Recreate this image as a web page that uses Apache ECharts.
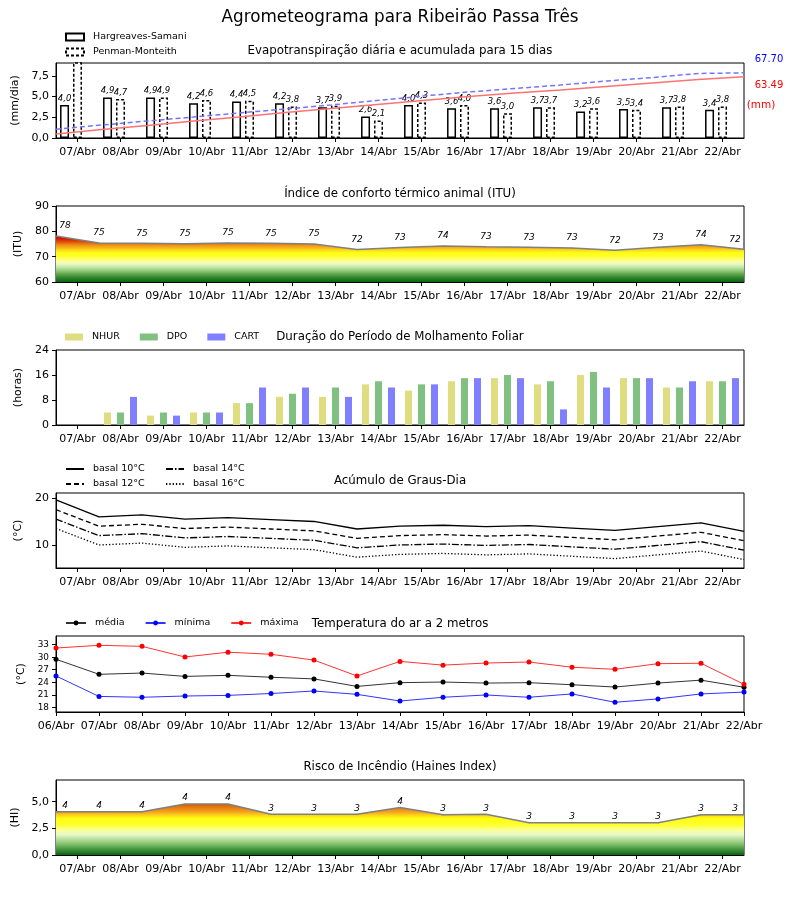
<!DOCTYPE html>
<html><head><meta charset="utf-8">
<script src="https://cdn.jsdelivr.net/npm/echarts@6/dist/echarts.min.js"></script>
<style>html,body{margin:0;padding:0;background:#fff}#c{width:800px;height:900px}</style>
</head><body><div id="c"></div>
<script>
// ---------- DATA ----------
const days16 = ['07/Abr','08/Abr','09/Abr','10/Abr','11/Abr','12/Abr','13/Abr','14/Abr','15/Abr','16/Abr','17/Abr','18/Abr','19/Abr','20/Abr','21/Abr','22/Abr'];
const days17 = ['06/Abr','07/Abr','08/Abr','09/Abr','10/Abr','11/Abr','12/Abr','13/Abr','14/Abr','15/Abr','16/Abr','17/Abr','18/Abr','19/Abr','20/Abr','21/Abr','22/Abr'];

const etHS = [4.0,4.9,4.9,4.2,4.4,4.2,3.7,2.6,4.0,3.6,3.6,3.7,3.2,3.5,3.7,3.4];
const etPM = [9.6,4.7,4.9,4.6,4.5,3.8,3.9,2.1,4.3,4.0,3.0,3.7,3.6,3.4,3.8,3.8];
const cumHS = [4.2,8.8,13.0,17.7,21.8,26.5,30.6,34.8,39.0,43.1,46.7,49.9,53.5,57.1,60.8,63.49];
const cumPM = [9.0,13.5,17.7,21.8,26.0,30.1,34.3,38.9,43.6,47.8,51.4,55.0,59.2,62.8,67.0,67.70];
const cumLabels = ['67.70','63.49','(mm)'];

const itu = [78.2,75.4,75.3,75.1,75.4,75.3,75.0,72.8,73.6,74.2,73.9,73.7,73.4,72.5,73.7,74.7,72.9];
const ituLabels = ['78','75','75','75','75','75','75','72','73','74','73','73','73','72','73','74','72'];

const nhur = [0,4,3,4,7,9,9,13,11,14,15,13,16,15,12,14];
const dpo  = [0,4,4,4,7,10,12,14,13,15,16,14,17,15,12,14];
const cart = [0,9,3,4,12,12,9,12,13,15,15,5,12,15,14,15];

const gd10 = [19.6,16.0,16.4,15.5,15.8,15.4,15.0,13.4,14.0,14.2,13.9,14.1,13.6,13.1,13.9,14.7,12.9];
const gd12 = [17.5,14.0,14.4,13.5,13.8,13.4,13.0,11.4,12.0,12.2,11.9,12.1,11.6,11.1,11.9,12.7,10.9];
const gd14 = [15.5,12.0,12.4,11.5,11.8,11.4,11.0,9.4,10.0,10.2,9.9,10.1,9.6,9.1,9.9,10.7,8.9];
const gd16 = [13.5,10.0,10.4,9.5,9.8,9.4,9.0,7.4,8.0,8.2,7.9,8.1,7.6,7.1,7.9,8.7,6.9];

const tMed = [29.5,25.9,26.2,25.4,25.65,25.2,24.8,23.0,23.9,24.05,23.8,23.9,23.4,22.85,23.8,24.5,22.8];
const tMin = [25.5,20.6,20.4,20.7,20.85,21.3,21.9,21.1,19.5,20.4,20.95,20.4,21.2,19.2,20.0,21.2,21.65];
const tMax = [32.2,32.85,32.6,30.05,31.2,30.7,29.3,25.5,29.0,28.1,28.6,28.85,27.6,27.1,28.45,28.55,23.5];
const tTicks = [18,21,24,27,30,33];
const gdTicks = [10,20];

const haines = [4.06,4.06,4.06,4.78,4.78,3.81,3.81,3.81,4.45,3.78,3.81,3.03,3.03,3.03,3.03,3.78,3.78];
const hainesLabels = ['4','4','4','4','4','3','3','3','4','3','3','3','3','3','3','3','3'];

// ---------- STYLE ----------
const FONT = 'DejaVu Sans';
const comma1 = v => Number(v).toFixed(1).replace('.', ',');
const chart = echarts.init(document.getElementById('c'), null, {renderer:'canvas'});

const gridDefs = [[63,75],[206,76],[350,75],[493,75],[636,76],[780,75]];
const grid = gridDefs.map(g => ({left:56, right:56, top:g[0], height:g[1], show:true, borderColor:'#000', borderWidth:1, backgroundColor:'rgba(0,0,0,0)', containLabel:false, outerBoundsMode:'none'}));

function visCat(gi, data, bg) {
  return {type:'category', gridIndex:gi, data:data, boundaryGap:bg,
    axisLine:{show:true, lineStyle:{color:'#000', width:1}},
    axisTick:{show:true, alignWithLabel:true, length:4, interval:0, lineStyle:{color:'#000'}},
    axisLabel:{show:true, color:'#000', fontFamily:FONT, fontSize:11, margin:9, interval:0, hideOverlap:false},
    splitLine:{show:false}};
}
function hidCat(gi, data) {
  return {type:'category', gridIndex:gi, data:data, boundaryGap:false, show:false};
}
function valAx(gi, min, max, name, gap, extra) {
  const a = {type:'value', gridIndex:gi, min:min, max:max,
    axisLine:{show:true, lineStyle:{color:'#000'}},
    axisTick:{show:true, length:4, lineStyle:{color:'#000'}},
    axisLabel:{show:true, color:'#000', fontFamily:FONT, fontSize:11, margin:7, showMaxLabel:true},
    splitLine:{show:false},
    name:name, nameLocation:'middle', nameRotate:90, nameGap:gap,
    nameTextStyle:{color:'#000', fontFamily:FONT, fontSize:11}};
  if (extra) {
    if (extra.interval !== undefined) a.interval = extra.interval;
    if (extra.labelFmt) a.axisLabel.formatter = extra.labelFmt;
    if (extra.fontSize) a.axisLabel.fontSize = extra.fontSize;
    if (extra.hideMax) a.axisLabel.showMaxLabel = false;
    if (extra.custom) { a.axisLabel.customValues = extra.custom; a.axisTick.customValues = extra.custom; }
  }
  return a;
}

function makeGradient(vals, base, stops) {
  const top = Math.max.apply(null, vals);
  const cs = stops.filter(s => s[0] <= top + 1e-9).map(s => ({offset: Math.min(1, Math.max(0, (top - s[0]) / (top - base))), color: s[1]}));
  cs.sort((a,b) => a.offset - b.offset);
  return new echarts.graphic.LinearGradient(0, 0, 0, 1, cs);
}
const ituStops = [[78.2,'#cc0000'],[77,'#d81a00'],[76,'#e04800'],[75.2,'#e27212'],[74.5,'#f09214'],[73.5,'#f7b51a'],[72.5,'#fcdc1e'],[71.5,'#ffff12'],[70,'#ffff30'],[69,'#ffff6e'],[68,'#f8ffa6'],[67,'#e8f8c2'],[66,'#c8e8a8'],[65,'#a6d68e'],[64,'#80c068'],[63,'#5aa24a'],[62,'#3a8a32'],[61,'#1e7820'],[60,'#0a640a']];
const hiStops = [[4.78,'#d85a00'],[4.4,'#e88010'],[4.0,'#f4a820'],[3.7,'#fcd818'],[3.4,'#ffff10'],[2.8,'#ffff30'],[2.3,'#f8ffa0'],[1.9,'#e8f8c8'],[1.5,'#b8e0a0'],[1.0,'#80c068'],[0.5,'#409040'],[0,'#0a640a']];

function labelledData(vals, labels) {
  const n = vals.length;
  return vals.map((v, i) => ({value:v, label:{formatter:labels[i], offset: i === 0 ? [9,0] : (i === n-1 ? [-9,0] : [0,0])}}));
}

const etMax = 9.06;
const barLabel = {show:true, position:'top', distance:2, formatter: p => comma1(p.value), fontStyle:'italic', fontSize:8.5, fontFamily:FONT, color:'#000'};

const titleStyle = {color:'#000', fontFamily:FONT, fontSize:11.8, fontWeight:'normal'};
const mkTitle = (text, cy) => ({text:text, left:'center', top:cy - 6.5, padding:0, textStyle:titleStyle});
const legText = {fontFamily:FONT, fontSize:9.5, color:'#000', padding:[0,0,0,4]};

const option = {
  animation:false,
  backgroundColor:'#fff',
  title:[
    {text:'Agrometeograma para Ribeirão Passa Três', left:'center', top:9.5, padding:0, textStyle:{color:'#000', fontFamily:FONT, fontSize:16.8, fontWeight:'normal'}},
    mkTitle('Evapotranspiração diária e acumulada para 15 dias', 51),
    mkTitle('Índice de conforto térmico animal (ITU)', 194),
    mkTitle('Duração do Período de Molhamento Foliar', 337),
    mkTitle('Acúmulo de Graus-Dia', 481),
    mkTitle('Temperatura do ar a 2 metros', 624),
    mkTitle('Risco de Incêndio (Haines Index)', 767)
  ],
  legend:[
    {data:[{name:'Hargreaves-Samani', icon:'rect'},{name:'Penman-Monteith', icon:'rect', itemStyle:{borderType:[3,2]}}],
     orient:'vertical', left:65, top:32, padding:0, itemWidth:18, itemHeight:7, itemGap:5, textStyle:legText},
    {data:[{name:'NHUR', icon:'rect'},{name:'DPO', icon:'rect'},{name:'CART', icon:'rect'}],
     orient:'horizontal', left:65, top:332, padding:0, itemWidth:18, itemHeight:7, itemGap:20, textStyle:legText},
    {data:['basal 10°C','basal 12°C'], orient:'vertical', left:65, top:464, padding:0, itemWidth:18, itemHeight:7, itemGap:5,
     itemStyle:{opacity:0}, textStyle:legText},
    {data:['basal 14°C','basal 16°C'], orient:'vertical', left:165, top:464, padding:0, itemWidth:18, itemHeight:7, itemGap:5,
     itemStyle:{opacity:0}, textStyle:legText},
    {data:['média','mínima','máxima'], orient:'horizontal', left:65, top:618, padding:0, itemWidth:20, itemHeight:6, itemGap:20, textStyle:legText}
  ],
  grid:grid,
  xAxis:[
    visCat(0, days16, true), hidCat(0, days16),
    visCat(1, days16, true), hidCat(1, days17),
    visCat(2, days16, true),
    visCat(3, days16, true), hidCat(3, days17),
    visCat(4, days17, false),
    visCat(5, days16, true), hidCat(5, days17)
  ],
  yAxis:[
    valAx(0, 0, etMax, '(mm/dia)', 31, {interval:2.5, labelFmt:comma1, hideMax:true}),
    {type:'value', gridIndex:0, min:0, max:77.9, show:false, splitLine:{show:false}},
    valAx(1, 60, 90, '(ITU)', 27, {interval:10}),
    valAx(2, 0, 24, '(horas)', 28, {interval:8}),
    valAx(3, 5.1, 21.06, '(°C)', 28, {custom:gdTicks}),
    valAx(4, 16.87, 35.08, '(°C)', 27, {custom:tTicks, fontSize:8.9}),
    valAx(5, 0, 7.03, '(HI)', 33, {interval:2.5, labelFmt:comma1, hideMax:true})
  ],
  series:[
    // Panel 1: evapotranspiration
    {type:'bar', name:'Hargreaves-Samani', xAxisIndex:0, yAxisIndex:0, data:etHS, barWidth:9, barGap:'44%', clip:true,
     itemStyle:{color:'#fff', borderColor:'#000', borderWidth:1.5}, label:barLabel, z:2},
    {type:'bar', name:'Penman-Monteith', xAxisIndex:0, yAxisIndex:0, barWidth:9, barGap:'44%', clip:true,
     data:etPM.map(v => v > etMax ? {value:v, label:{show:false}} : v),
     itemStyle:{color:'#fff', borderColor:'#000', borderWidth:1.5, borderType:[3,2]}, label:barLabel, z:2},
    {type:'bar', name:'_pad', xAxisIndex:0, yAxisIndex:0, barWidth:9, barGap:'44%', data:[]},
    {type:'line', name:'acumPM', xAxisIndex:1, yAxisIndex:1, data:cumPM, symbol:'none', silent:true, z:4,
     lineStyle:{color:'#7575ff', width:1.5, type:[5,3]}},
    {type:'line', name:'acumHS', xAxisIndex:1, yAxisIndex:1, data:cumHS, symbol:'none', silent:true, z:4,
     lineStyle:{color:'#ff7272', width:1.5}},
    // Panel 2: ITU
    {type:'line', name:'ITU', xAxisIndex:3, yAxisIndex:2, data:labelledData(itu, ituLabels), symbol:'circle', symbolSize:1,
     itemStyle:{color:'#808080'}, lineStyle:{color:'#808080', width:1.5},
     areaStyle:{color:makeGradient(itu, 60, ituStops), opacity:1},
     label:{show:true, position:'top', distance:5, fontStyle:'italic', fontSize:9, fontFamily:FONT, color:'#000'}},
    // Panel 3: leaf wetness
    {type:'bar', name:'NHUR', xAxisIndex:4, yAxisIndex:3, data:nhur, barWidth:7, barGap:'86%', itemStyle:{color:'#dfdd80'}},
    {type:'bar', name:'DPO', xAxisIndex:4, yAxisIndex:3, data:dpo, barWidth:7, barGap:'86%', itemStyle:{color:'#80c080'}},
    {type:'bar', name:'CART', xAxisIndex:4, yAxisIndex:3, data:cart, barWidth:7, barGap:'86%', itemStyle:{color:'#8080ff'}},
    // Panel 4: degree days
    {type:'line', name:'basal 10°C', xAxisIndex:6, yAxisIndex:4, data:gd10, symbol:'none', itemStyle:{color:'#000'}, lineStyle:{color:'#000', width:1.3, type:'solid'}},
    {type:'line', name:'basal 12°C', xAxisIndex:6, yAxisIndex:4, data:gd12, symbol:'none', itemStyle:{color:'#000'}, lineStyle:{color:'#000', width:1.3, type:[5,3]}},
    {type:'line', name:'basal 14°C', xAxisIndex:6, yAxisIndex:4, data:gd14, symbol:'none', itemStyle:{color:'#000'}, lineStyle:{color:'#000', width:1.3, type:[7,2,1.5,2]}},
    {type:'line', name:'basal 16°C', xAxisIndex:6, yAxisIndex:4, data:gd16, symbol:'none', itemStyle:{color:'#000'}, lineStyle:{color:'#000', width:1.3, type:[1.3,2]}},
    // Panel 5: temperature
    {type:'line', name:'média', xAxisIndex:7, yAxisIndex:5, data:tMed, symbol:'circle', symbolSize:5, itemStyle:{color:'#000'}, lineStyle:{color:'#000', width:1, opacity:0.8}},
    {type:'line', name:'mínima', xAxisIndex:7, yAxisIndex:5, data:tMin, symbol:'circle', symbolSize:5, itemStyle:{color:'#0000ff'}, lineStyle:{color:'#0000ff', width:1, opacity:0.8}},
    {type:'line', name:'máxima', xAxisIndex:7, yAxisIndex:5, data:tMax, symbol:'circle', symbolSize:5, itemStyle:{color:'#ff0000'}, lineStyle:{color:'#ff0000', width:1, opacity:0.8}},
    // Panel 6: Haines
    {type:'line', name:'Haines', xAxisIndex:9, yAxisIndex:6, data:labelledData(haines, hainesLabels), symbol:'circle', symbolSize:1,
     itemStyle:{color:'#808080'}, lineStyle:{color:'#808080', width:1.5},
     areaStyle:{color:makeGradient(haines, 0, hiStops), opacity:1},
     label:{show:true, position:'top', distance:1, fontStyle:'italic', fontSize:9, fontFamily:FONT, color:'#000'}}
  ],
  graphic:[
    {type:'text', x:769, y:59, style:{text:cumLabels[0], fill:'#0000ff', font:'10px "DejaVu Sans"', textAlign:'center', textVerticalAlign:'middle', align:'center', verticalAlign:'middle'}},
    {type:'text', x:769, y:85, style:{text:cumLabels[1], fill:'#ff0000', font:'10px "DejaVu Sans"', textAlign:'center', textVerticalAlign:'middle', align:'center', verticalAlign:'middle'}},
    {type:'text', x:761, y:105, style:{text:cumLabels[2], fill:'#ff0000', font:'10.5px "DejaVu Sans"', textAlign:'center', textVerticalAlign:'middle', align:'center', verticalAlign:'middle'}}
  ]
};
chart.setOption(option);
</script>
</body></html>
